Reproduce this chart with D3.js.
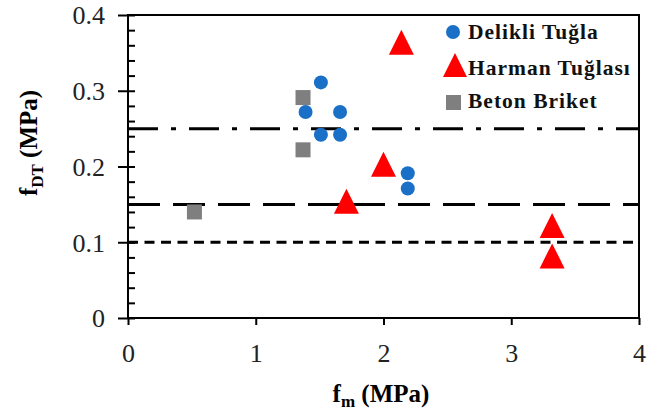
<!DOCTYPE html>
<html>
<head>
<meta charset="utf-8">
<script src="https://cdn.jsdelivr.net/npm/d3@7"></script>
<style>
  body { margin: 0; background: #fff; }
  svg { display: block; }
  text { font-family: "Liberation Serif", "Times New Roman", serif; }
</style>
</head>
<body>
<svg id="chart" width="653" height="414"></svg>
<script>
// Delikli Tuğla (mavi daire)
const delikliX = [1.51, 1.39, 1.66, 1.51, 1.66, 2.19, 2.19];
const delikliY = [0.311, 0.272, 0.272, 0.242, 0.242, 0.191, 0.171];
// Harman Tuğlası (kırmızı üçgen)
const harmanX = [2.14, 2.00, 1.71, 3.32, 3.32];
const harmanY = [0.364, 0.203, 0.154, 0.122, 0.082];
// Beton Briket (gri kare)
const betonX = [1.37, 1.37, 0.52];
const betonY = [0.291, 0.222, 0.140];
// sınır çizgileri
const limitValues = [0.25, 0.15, 0.10];
const xTicks = [0, 1, 2, 3, 4];
const yTicks = [0, 0.1, 0.2, 0.3, 0.4];
const legendNames = ["Delikli Tuğla", "Harman Tuğlası", "Beton Briket"];

const svg = d3.select('#chart');
const x = d3.scaleLinear().domain([0, 4]).range([128, 639]);
const y = d3.scaleLinear().domain([0, 0.4]).range([318, 15]);

/*çizgi stilleri*/
const dashes = ["30,13,5,13", "32,13", "10,6.5"];

svg.append('g').selectAll('line.limit')
    .data(limitValues)
    .enter().append('line')
        .attr('class', 'limit')
        .attr('x1', x(0))
        .attr('x2', x(4))
        .attr('y1', d => y(d))
        .attr('y2', d => y(d))
        .attr('stroke', '#000')
        .attr('stroke-width', 3)
        .attr('stroke-dasharray', (d, i) => dashes[i]);

// çerçeve
svg.append('rect')
    .attr('x', x(0)).attr('y', y(0.4))
    .attr('width', x(4) - x(0)).attr('height', y(0) - y(0.4))
    .attr('fill', 'none').attr('stroke', '#000').attr('stroke-width', 2);

// y ekseni: dışa büyük çentikler + etiketler
const yAxis = svg.append('g')
    .attr('transform', `translate(${x(0)},0)`)
    .call(d3.axisLeft(y).tickValues(yTicks).tickSize(10).tickPadding(13)
        .tickFormat(d => d === 0 ? '0' : d3.format('.1f')(d)));
// içe küçük çentikler
const yInner = svg.append('g')
    .attr('transform', `translate(${x(0)},0)`)
    .call(d3.axisRight(y).tickValues(d3.range(0, 0.401, 0.02)).tickSize(7).tickFormat(''));

const xAxis = svg.append('g')
    .attr('transform', `translate(0,${y(0)})`)
    .call(d3.axisBottom(x).tickValues(xTicks).tickSize(7).tickPadding(19).tickFormat(d3.format('d')));

[yAxis, yInner, xAxis].forEach(g => {
    g.select('.domain').remove();
    g.selectAll('.tick line').attr('stroke', '#000').attr('stroke-width', 2);
    g.selectAll('text')
        .attr('font-family', '"Liberation Serif", serif')
        .attr('font-size', 26)
        .attr('fill', '#222');
});
yAxis.selectAll('text').attr('dy', '0.34em');

// eksen başlıkları
const xTitle = svg.append('text')
    .attr('x', 381).attr('y', 402)
    .attr('text-anchor', 'middle')
    .attr('font-size', 25).attr('font-weight', 'bold');
xTitle.append('tspan').text('f');
xTitle.append('tspan').attr('font-size', 17).attr('dy', 5).text('m');
xTitle.append('tspan').attr('dy', -5).text(' (MPa)');

const yTitle = svg.append('text')
    .attr('transform', 'translate(37,143) rotate(-90)')
    .attr('text-anchor', 'middle')
    .attr('font-size', 25).attr('font-weight', 'bold');
yTitle.append('tspan').text('f');
yTitle.append('tspan').attr('font-size', 17).attr('dy', 6).text('DT');
yTitle.append('tspan').attr('dy', -6).text(' (MPa)');

/*üçgen: sınır kutusunun merkezine göre*/
function triangle(cx, cy, w) {
    const h = w / 2;
    return `M${cx},${cy - h}L${cx + h},${cy + h}L${cx - h},${cy + h}Z`;
}

svg.append('g').selectAll('rect.beton')
    .data(d3.zip(betonX, betonY))
    .enter().append('rect')
        .attr('class', 'beton')
        .attr('x', d => x(d[0]) - 7.5)
        .attr('y', d => y(d[1]) - 7.5)
        .attr('width', 15).attr('height', 15)
        .attr('fill', '#7f7f7f');

svg.append('g').selectAll('circle.delikli')
    .data(d3.zip(delikliX, delikliY))
    .enter().append('circle')
        .attr('class', 'delikli')
        .attr('cx', d => x(d[0]))
        .attr('cy', d => y(d[1]))
        .attr('r', 7)
        .attr('fill', '#1a6fc6');

svg.append('g').selectAll('path.harman')
    .data(d3.zip(harmanX, harmanY))
    .enter().append('path')
        .attr('class', 'harman')
        .attr('d', d => triangle(x(d[0]), y(d[1]), 25))
        .attr('fill', '#ff0000');

// lejant
const legend = svg.append('g');
legend.append('circle').attr('cx', 453).attr('cy', 32).attr('r', 7).attr('fill', '#1a6fc6');
legend.append('path').attr('d', triangle(455, 65, 24)).attr('fill', '#ff0000');
legend.append('rect').attr('x', 446).attr('y', 95).attr('width', 15).attr('height', 15).attr('fill', '#7f7f7f');

legend.selectAll('text')
    .data(legendNames)
    .enter().append('text')
        .attr('x', 468)
        .attr('y', (d, i) => [39, 75, 108][i])
        .attr('font-size', 21.5)
        .attr('font-weight', 'bold')
        .attr('letter-spacing', 1)
        .attr('fill', '#111')
        .text(d => d);
</script>
</body>
</html>
